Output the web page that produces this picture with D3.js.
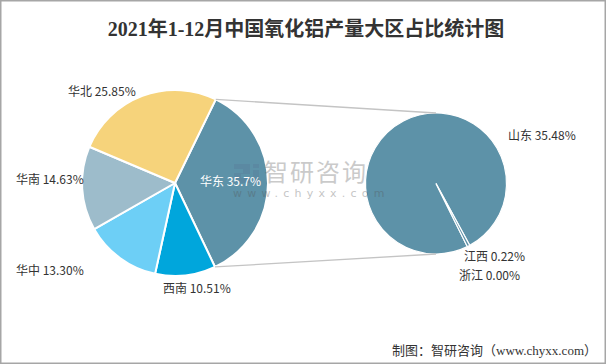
<!DOCTYPE html>
<html><head><meta charset="utf-8">
<script src="https://cdn.jsdelivr.net/npm/d3@7/dist/d3.min.js"></script>
<style>
html,body{margin:0;padding:0;background:#fff;}
svg{display:block;}
</style>
</head><body>
<svg id="chart" width="606" height="364"></svg>
<script>
// ---- data ----
const regions = ["华东", "西南", "华中", "华南", "华北"];
const regionValues = [35.7, 10.51, 13.30, 14.63, 25.85];
const regionLabels = ["华东 35.7%", "西南 10.51%", "华中 13.30%", "华南 14.63%", "华北 25.85%"];
const provinces = ["山东", "江西", "浙江"];
const provinceValues = [35.48, 0.22, 0.00];
const provinceLabels = ["山东 35.48%", "江西 0.22%", "浙江 0.00%"];
const titleText = "2021年1-12月中国氧化铝产量大区占比统计图";
const sourceText = "制图：智研咨询（www.chyxx.com）";

// ---- styles / layout ----
const regionColors = ["#5d92a8", "#00a6dc", "#6dcff6", "#9dbccb", "#f6d37b"];
const provinceColors = ["#5d92a8", "#5d92a8", "#5d92a8"];
const deg = Math.PI / 180;
const left = {cx: 175, cy: 183, r: 93, start: 26 * deg};
const right = {cx: 436, cy: 183.5, r: 70.5, start: 153.6 * deg};
const labelFont = "'Noto Sans CJK SC','Noto Sans',sans-serif";

const regionLabelPos = {
  "华东": {x: 200, y: 183, anchor: "start", color: "#fff"},
  "西南": {x: 163, y: 290, anchor: "start", color: "#333"},
  "华中": {x: 16, y: 272, anchor: "start", color: "#333"},
  "华南": {x: 16, y: 181, anchor: "start", color: "#333"},
  "华北": {x: 68, y: 93, anchor: "start", color: "#333"}
};
const provinceLabelPos = {
  "山东": {x: 508, y: 137},
  "江西": {x: 464, y: 258},
  "浙江": {x: 459, y: 277}
};

const svg = d3.select("#chart");

// border
svg.append("rect").attr("x", 0.75).attr("y", 0.75).attr("width", 604.5).attr("height", 362.5)
  .attr("fill", "#fff").attr("stroke", "#a6a6a6").attr("stroke-width", 1.5);

// title
svg.append("text").attr("x", 306).attr("y", 31)
  .attr("text-anchor", "middle").attr("dominant-baseline", "middle")
  .attr("font-family", "'Liberation Serif','DejaVu Serif','Noto Sans CJK SC',serif")
  .attr("font-size", 20).attr("font-weight", "bold").attr("fill", "#333")
  .text(titleText);

// left pie
const regionData = regions.map((n, i) => ({name: n, value: regionValues[i], label: regionLabels[i], color: regionColors[i]}));
const pieL = d3.pie().sort(null).value(d => d.value)
  .startAngle(left.start).endAngle(left.start + 2 * Math.PI);
const arcsL = pieL(regionData);
const arcL = d3.arc().innerRadius(0).outerRadius(left.r);
const gL = svg.append("g").attr("transform", `translate(${left.cx},${left.cy})`);
gL.selectAll("path").data(arcsL).join("path")
  .attr("d", arcL).attr("fill", d => d.data.color)
  .attr("stroke", "#fff").attr("stroke-width", 2).attr("stroke-linejoin", "round");

// right pie
const provData = provinces.map((n, i) => ({name: n, value: provinceValues[i], label: provinceLabels[i], color: provinceColors[i]}));
const pieR = d3.pie().sort(null).value(d => d.value)
  .startAngle(right.start).endAngle(right.start + 2 * Math.PI);
const arcsR = pieR(provData);
const arcR = d3.arc().innerRadius(0).outerRadius(right.r);
const gR = svg.append("g").attr("transform", `translate(${right.cx},${right.cy})`);
gR.selectAll("path").data(arcsR.filter(d => d.value > 0)).join("path")
  .attr("d", arcR).attr("fill", d => d.data.color)
  .attr("stroke", "#fff").attr("stroke-width", 1.2).attr("stroke-linejoin", "miter");

// connector lines from the 华东 slice edges to the right pie
const hd = arcsL[0];
const pt = (a, c) => [c.cx + c.r * Math.sin(a), c.cy - c.r * Math.cos(a)];
const p1 = pt(hd.startAngle, left), p2 = pt(hd.endAngle, left);
svg.append("line").attr("x1", p1[0]).attr("y1", p1[1]).attr("x2", right.cx).attr("y2", right.cy - right.r)
  .attr("stroke", "#c4c4c4").attr("stroke-width", 1.3);
svg.append("line").attr("x1", p2[0]).attr("y1", p2[1]).attr("x2", right.cx).attr("y2", right.cy + right.r)
  .attr("stroke", "#c4c4c4").attr("stroke-width", 1.3);

// watermark
const wm = svg.append("g").attr("opacity", 0.34);
wm.append("path").attr("fill", "#5a7a99")
  .attr("d", "M234,164 h16 v10 h-9 v4 h9 v5 h-16 v-10 h9 v-4 h-9 z M253,164 h6 v4 h-6 z M253,170 h6 v13 h-6 z");
wm.append("text").attr("x", 264).attr("y", 174).attr("dominant-baseline", "middle")
  .attr("font-family", labelFont).attr("font-size", 24).attr("fill", "#666").attr("letter-spacing", 2)
  .text("智研咨询");
wm.append("text").attr("x", 233).attr("y", 194).attr("dominant-baseline", "middle")
  .attr("font-family", "'DejaVu Sans',sans-serif").attr("font-size", 11).attr("fill", "#555")
  .attr("letter-spacing", 5.2).text("www.chyxx.com");

// left labels
svg.append("g").selectAll("text").data(arcsL).join("text")
  .attr("x", d => regionLabelPos[d.data.name].x)
  .attr("y", d => regionLabelPos[d.data.name].y)
  .attr("text-anchor", d => regionLabelPos[d.data.name].anchor)
  .attr("dominant-baseline", "middle")
  .attr("font-family", labelFont).attr("font-size", 12)
  .attr("fill", d => regionLabelPos[d.data.name].color)
  .text(d => d.data.label);

// right labels
svg.append("g").selectAll("text").data(arcsR).join("text")
  .attr("x", d => provinceLabelPos[d.data.name].x)
  .attr("y", d => provinceLabelPos[d.data.name].y)
  .attr("dominant-baseline", "middle")
  .attr("font-family", labelFont).attr("font-size", 12).attr("fill", "#333")
  .text(d => d.data.label);

// source
svg.append("text").attr("x", 597).attr("y", 352).attr("text-anchor", "end")
  .attr("dominant-baseline", "middle")
  .attr("font-family", "'Liberation Serif','Noto Sans CJK SC',serif")
  .attr("font-size", 13).attr("fill", "#333")
  .text(sourceText);
</script>
</body></html>
